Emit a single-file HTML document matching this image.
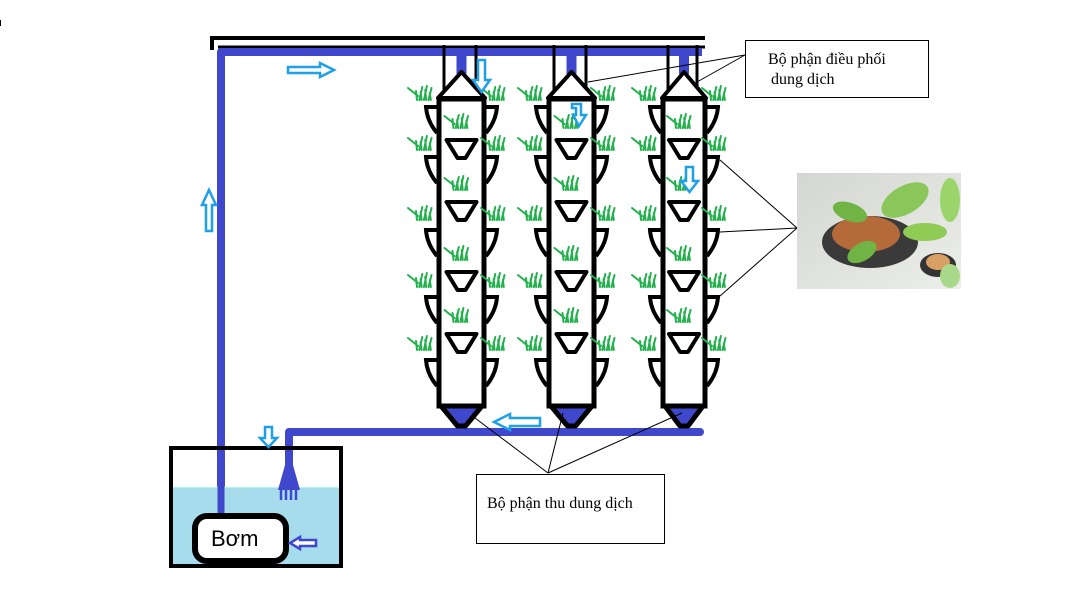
<!DOCTYPE html>
<html><head><meta charset="utf-8">
<style>
html,body{margin:0;padding:0;background:#fff;}
svg{display:block;}
</style></head>
<body>
<svg id="s" width="1084" height="616" viewBox="0 0 1084 616" xmlns="http://www.w3.org/2000/svg">
<defs>
<linearGradient id="bg" x1="0" y1="0" x2="1" y2="1">
<stop offset="0" stop-color="#d4d6d2"/><stop offset="1" stop-color="#eceeea"/>
</linearGradient>
</defs>
<path d="M212 50 V38 H705" fill="none" stroke="#000" stroke-width="4"/>
<line x1="218" y1="47" x2="705" y2="47" stroke="#000" stroke-width="3"/>
<path d="M221 520 V52 H702" fill="none" stroke="#3f48cc" stroke-width="8" stroke-linejoin="round"/>
<path d="M289 470 V432 H700" fill="none" stroke="#3f48cc" stroke-width="8" stroke-linecap="round" stroke-linejoin="round"/>
<rect x="172" y="487" width="168" height="78" fill="#a6dcec"/>
<line x1="172" y1="487" x2="344" y2="487" stroke="#dff" stroke-width="1"/>
<rect x="171" y="448" width="170" height="118" fill="none" stroke="#000" stroke-width="4"/>
<line x1="221" y1="480" x2="221" y2="516" stroke="#3f48cc" stroke-width="7"/>
<path d="M285 465 L278 490 H300 L293 465 Z" fill="#3f48cc"/>
<path d="M281 490 V500 M286 490 V500 M291 490 V500 M296 490 V500" stroke="#3f48cc" stroke-width="2.5"/>
<rect x="195" y="516" width="91" height="45" rx="12" fill="#fff" stroke="#000" stroke-width="6"/>
<text x="211" y="546" font-family="Liberation Sans, sans-serif" font-size="22" fill="#000">Bơm</text>
<g id="cols"></g>
<g id="grass" fill="none" stroke="#22b14c" stroke-width="2" stroke-linecap="round"></g>
<g fill="#fff" stroke="#1ea0e8" stroke-width="2.5" stroke-linejoin="miter">
<path d="M288 67 H320 V63 L334 70 L320 77 V73 H288 Z"/>
<path d="M206 231 V205 H202 L209 190 L216 205 H212 V231 Z"/>
<path d="M478 60 H485 V80 H490 L481.5 92 L473 80 H478 Z"/>
<path d="M572 104 H581 V115 H586 L579 126 L573 115 H576 V108 H572 Z"/>
<path d="M686 167 H693 V181 H698 L689.5 192 L681 181 H686 Z"/>
<path d="M265 427 H272 V438 H277 L268.5 447 L260 438 H265 Z"/>
<path d="M540 418 H510 V414 L494 422 L510 430 V426 H540 Z"/>
</g>
<path d="M316 540 H300 V537 L290 543 L300 549 V546 H316 Z" fill="#fff" stroke="#3f48cc" stroke-width="2.5"/>
<rect x="745.5" y="40.5" width="183" height="57" fill="#fff" stroke="#000" stroke-width="1"/>
<text x="768" y="64" font-family="Liberation Serif, serif" font-size="16" fill="#000">Bộ phận điều phối</text>
<text x="771" y="84" font-family="Liberation Serif, serif" font-size="16" fill="#000">dung dịch</text>
<rect x="476.5" y="474.5" width="188" height="69" fill="#fff" stroke="#000" stroke-width="1"/>
<text x="487" y="508" font-family="Liberation Serif, serif" font-size="16" fill="#000">Bộ phận thu dung dịch</text>
<g stroke="#000" stroke-width="1">
<line x1="745" y1="55" x2="588" y2="82"/>
<line x1="745" y1="55" x2="697" y2="82"/>
<line x1="797" y1="228" x2="720" y2="160"/>
<line x1="797" y1="228" x2="720" y2="232"/>
<line x1="797" y1="228" x2="720" y2="296"/>
<line x1="548" y1="473" x2="475" y2="418"/>
<line x1="548" y1="473" x2="563" y2="413"/>
<line x1="548" y1="473" x2="682" y2="413"/>
</g>
<rect x="797" y="173" width="164" height="116" fill="url(#bg)"/>
<ellipse cx="870" cy="242" rx="48" ry="26" fill="#3a3a3a"/>
<ellipse cx="866" cy="234" rx="34" ry="18" fill="#b56a3a"/>
<ellipse cx="938" cy="265" rx="18" ry="12" fill="#333"/>
<ellipse cx="938" cy="262" rx="12" ry="8" fill="#d9a066"/>
<g fill="#6fb444">
<ellipse cx="850" cy="212" rx="18" ry="9" transform="rotate(20 850 212)"/>
<ellipse cx="905" cy="200" rx="26" ry="14" transform="rotate(-30 905 200)" fill="#8bc65a"/>
<ellipse cx="925" cy="232" rx="22" ry="9" fill="#8fcb55"/>
<ellipse cx="862" cy="252" rx="16" ry="9" transform="rotate(-30 862 252)"/>
<ellipse cx="950" cy="200" rx="10" ry="22" fill="#9bd46a"/>
<ellipse cx="950" cy="276" rx="10" ry="12" fill="#a8d98a"/>
</g>
<rect x="0" y="20" width="1" height="6" fill="#000"/>
</svg>
<script>
var cols=[[439,484],[549,594],[663,705]];
var g=document.getElementById('cols');
var h='';
cols.forEach(function(c){
 var L=c[0],R=c[1],cx=(L+R)/2,w=R-L;
 h+='<line x1="'+(L+5)+'" y1="45" x2="'+(L+5)+'" y2="90" stroke="#000" stroke-width="3"/>';
 h+='<line x1="'+(R-8)+'" y1="45" x2="'+(R-8)+'" y2="90" stroke="#000" stroke-width="3"/>';
 h+='<rect x="'+(cx-5)+'" y="52" width="10" height="22" fill="#3f48cc"/>';
 h+='<path d="M'+(L-1)+' 98 L'+cx+' 72 L'+(R+1)+' 98 Z" fill="#fff" stroke="#000" stroke-width="4" stroke-linejoin="round"/>';
 h+='<path d="M'+(L+2)+' 406 L'+(cx-4)+' 426 H'+(cx+4)+' L'+(R-2)+' 406 Z" fill="#3f48cc" stroke="#000" stroke-width="5" stroke-linejoin="round"/>';
 h+='<rect x="'+L+'" y="99" width="'+w+'" height="307" fill="#fff" stroke="#000" stroke-width="5"/>';
 [107,157,230,297,360].forEach(function(y){
  h+='<path d="M'+(L-2)+' '+y+' H'+(L-13)+' Q'+(L-12)+' '+(y+14)+' '+(L-2)+' '+(y+26)+'" fill="none" stroke="#000" stroke-width="4"/>';
  h+='<path d="M'+(R+2)+' '+y+' H'+(R+13)+' Q'+(R+12)+' '+(y+14)+' '+(R+2)+' '+(y+26)+'" fill="none" stroke="#000" stroke-width="4"/>';
 });
 [140,202,272,334].forEach(function(y){
  h+='<path d="M'+(cx-15)+' '+y+' H'+(cx+15)+' L'+(cx+4)+' '+(y+18)+' H'+(cx-4)+' Z" fill="#fff" stroke="#000" stroke-width="4" stroke-linejoin="round"/>';
 });
});
g.innerHTML=h;
var gr=document.getElementById('grass'),t='';
function tuft(x,y){var p='';var hs=[9,13,8,14,10,12,7];for(var i=0;i<7;i++){var bx=x+i*2.3;p+='M'+bx+' '+(y+12)+' L'+(bx+(i%2?3:-1))+' '+(y+12-hs[i]);}
 p+='M'+(x-9)+' '+(y)+' L'+(x+1)+' '+(y+8);t+='<path d="'+p+'"/>';}
cols.forEach(function(c){var L=c[0],R=c[1],cx=(L+R)/2;
 [88,138,208,275,338].forEach(function(y){tuft(L-22,y);tuft(R+6,y);});
 [116,178,248,310].forEach(function(y){tuft(cx-8,y);});
});
gr.innerHTML=t;
</script>
</body></html>
